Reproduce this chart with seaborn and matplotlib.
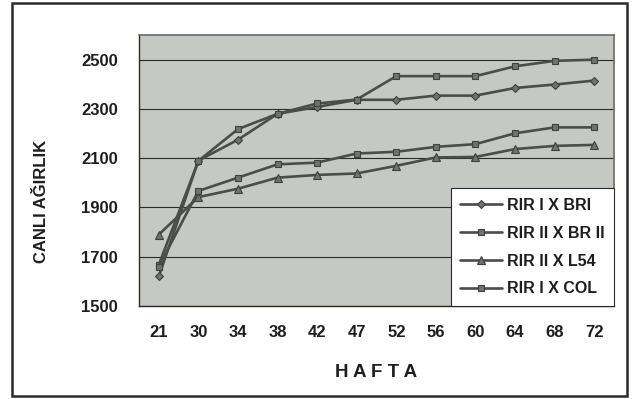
import matplotlib
matplotlib.use("Agg")
import matplotlib.pyplot as plt
from matplotlib.patches import Rectangle
import numpy as np
import pandas as pd
import seaborn as sns

# Weeks of measurement
weeks = ["21", "30", "34", "38", "42", "47", "52", "56", "60", "64", "68", "72"]

# Live weight per cross
rir1_bri = [1620, 2090, 2175, 2280, 2308, 2337, 2337, 2354, 2354, 2385, 2399, 2415]
rir2_br2 = [1667, 2089, 2218, 2280, 2322, 2338, 2433, 2433, 2433, 2473, 2495, 2500]
rir2_l54 = [1790, 1942, 1976, 2021, 2032, 2038, 2069, 2103, 2105, 2137, 2150, 2154]
rir1_col = [1660, 1967, 2021, 2075, 2082, 2119, 2126, 2146, 2157, 2201, 2225, 2225]

series = [
    ("RIR I X BRI", rir1_bri, "D", 4.5),
    ("RIR II X BR II", rir2_br2, "s", 5),
    ("RIR II X L54", rir2_l54, "^", 6),
    ("RIR I X COL", rir1_col, "s", 5),
]

sns.set_style("white")
plt.rcParams["font.family"] = ["Liberation Sans", "DejaVu Sans"]

fig = plt.figure(figsize=(6.32, 3.99), dpi=100)
ax = fig.add_axes([139 / 632, 1 - 306 / 399, (614 - 139) / 632, (306 - 35) / 399])
ax.set_facecolor("#c5c8c3")

x = np.arange(len(weeks))
for name, vals, mk, ms in series:
    df = pd.DataFrame({"hafta": x, "agirlik": vals})
    sns.lineplot(data=df, x="hafta", y="agirlik", ax=ax, color="#4a4d4a",
                 linewidth=1.9, marker=mk, markersize=ms,
                 markerfacecolor="#6f736f", markeredgecolor="#3e413e",
                 markeredgewidth=0.8, label=name)

ax.set_xlim(-0.5, len(weeks) - 0.5)
ax.set_ylim(1500, 2600)
ax.set_yticks(range(1500, 2501, 200))
ax.yaxis.grid(True, color="#2a2a2a", linewidth=0.8)
ax.set_axisbelow(True)

ax.set_xticks(x)
ax.set_xticklabels(weeks)
ax.set_xticks(np.arange(-0.5, len(weeks), 1), minor=True)
ax.tick_params(axis="x", which="major", length=0, pad=14, labelsize=12)
ax.tick_params(axis="x", which="minor", length=4, width=0.8, color="#333333")
ax.tick_params(axis="y", length=5, width=0.8, color="#333333", pad=10, labelsize=12)
for lab in ax.get_xticklabels() + ax.get_yticklabels():
    lab.set_fontweight("bold")
    lab.set_color("#1e1e1e")

for side in ["top", "right"]:
    ax.spines[side].set_color("#6a6a6a")
    ax.spines[side].set_linewidth(1.2)
for side in ["left", "bottom"]:
    ax.spines[side].set_color("#2a2a2a")
    ax.spines[side].set_linewidth(1.0)

ax.set_xlabel("H A F T A", fontsize=13.5, fontweight="bold", color="#1e1e1e", labelpad=17)
ax.set_ylabel("CANLI AĞIRLIK", fontsize=12, fontweight="bold", color="#1e1e1e")
ax.yaxis.set_label_coords(-0.19, 0.387)

leg = ax.legend(loc="lower right", bbox_to_anchor=(1.0, 0.0), frameon=True,
                fancybox=False, framealpha=1, edgecolor="#2a2a2a",
                prop={"weight": "bold", "size": 11.5}, handlelength=2.6,
                borderpad=0.6, labelspacing=0.8, handletextpad=0.3,
                borderaxespad=0.0)
leg.get_frame().set_linewidth(0.8)
for t in leg.get_texts():
    t.set_color("#1e1e1e")

# Outer frame around the whole chart
fig.patches.append(Rectangle((12 / 632, 1 - 396 / 399), (627 - 12) / 632, (396 - 3) / 399,
                             transform=fig.transFigure, fill=False,
                             edgecolor="#2a2a2a", linewidth=1.8))

fig.savefig("out.png", dpi=100, facecolor="white")
